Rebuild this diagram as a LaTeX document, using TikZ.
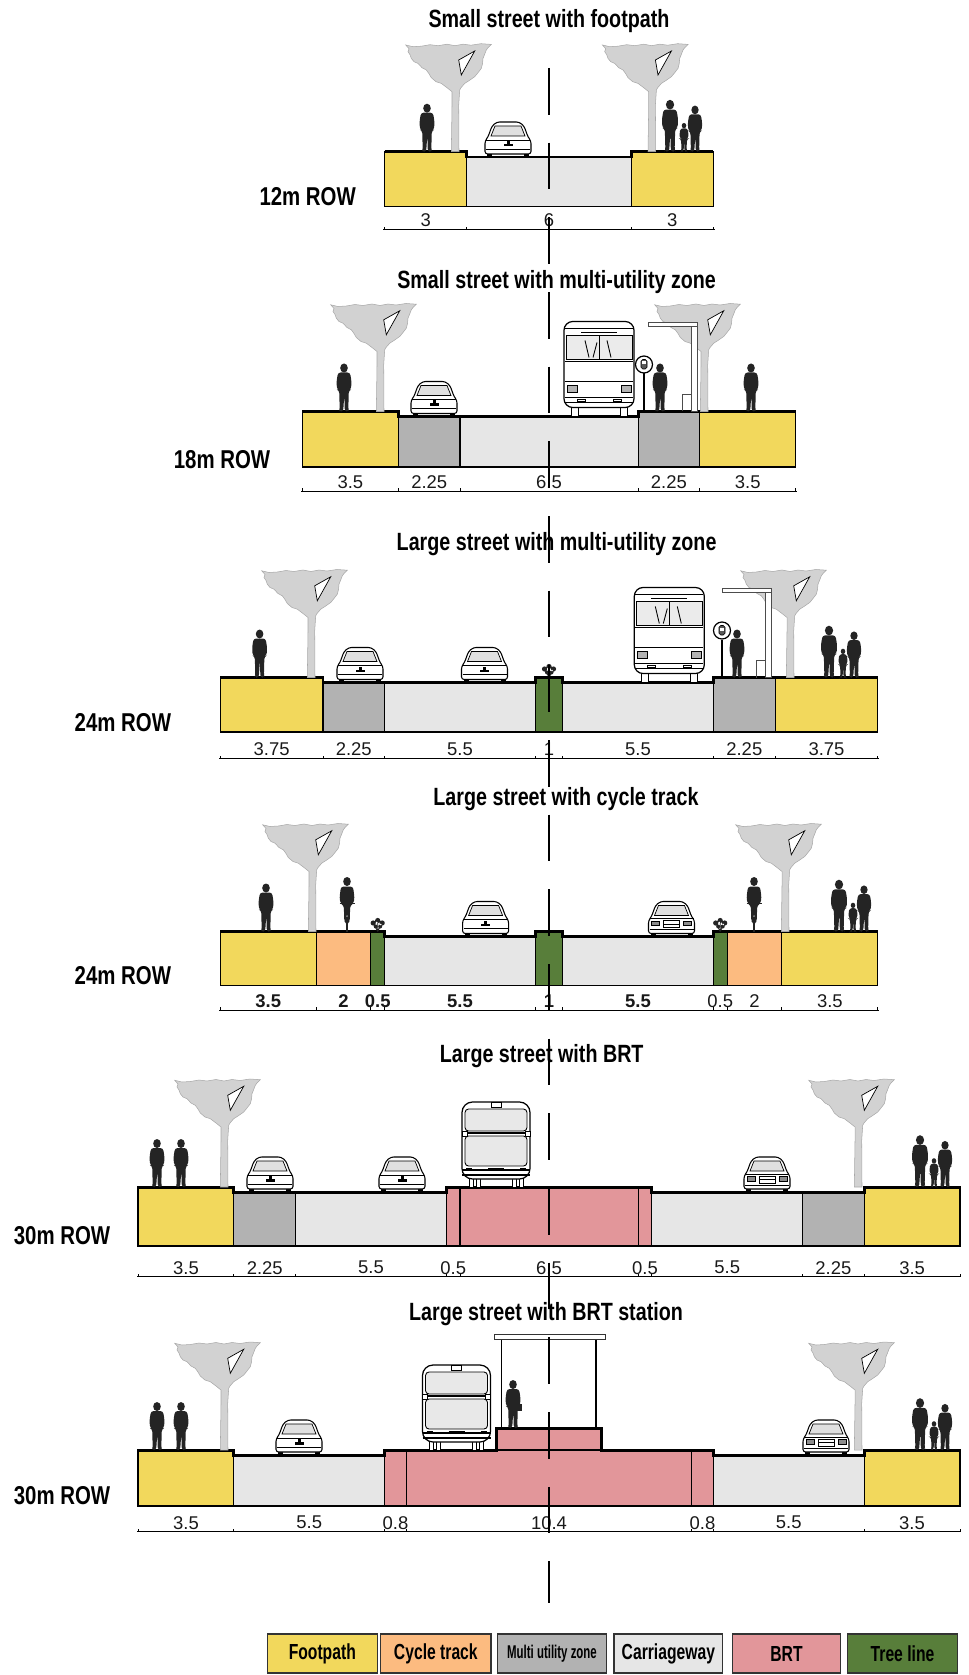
\documentclass[tikz,border=0pt]{standalone}
\usepackage{fontspec}
\setmainfont{Liberation Sans}
\newfontfamily\titlefont[FakeStretch=0.79]{Liberation Sans Bold}
\newfontfamily\legendfont[FakeStretch=0.72]{Liberation Sans Bold}
\newfontfamily\legendnarrow[FakeStretch=0.62]{Liberation Sans Bold}

\definecolor{footpath}{HTML}{F2D85C}
\definecolor{cycletrack}{HTML}{FCBB80}
\definecolor{utility}{HTML}{B2B2B2}
\definecolor{carriage}{HTML}{E6E6E6}
\definecolor{brt}{HTML}{E2969A}
\definecolor{treeline}{HTML}{587E3A}
\definecolor{canopy}{HTML}{D2D2D2}
\definecolor{canopyedge}{HTML}{A8A8A8}
\definecolor{ink}{HTML}{242424}

% one band of a cross-section: x1, x2, top, bottom, colour
\newcommand\zone[5]{\filldraw[zone, fill=#5] (#1,#3) rectangle (#2,#4);}

\tikzset{
  zone/.style={draw=black, line width=0.6pt},
  profile/.style={line width=1.7pt, line join=miter},
  dimline/.style={line width=0.5pt},
  dimlabel/.style={font=\fontsize{10.5}{12}\selectfont, text=black!90, inner sep=0pt},
  boldlabel/.style={dimlabel, font=\bfseries\fontsize{10.5}{12}\selectfont},
  sectitle/.style={font=\titlefont\fontsize{14.2}{16}\selectfont, inner sep=0pt},
  rowlabel/.style={font=\titlefont\fontsize{14.7}{16}\selectfont, inner sep=0pt},
  legendbox/.style={draw=black!80, line width=0.6pt, minimum height=0.78cm, inner sep=0pt,
    font=\legendfont\fontsize{12.4}{14}\selectfont},
  axisline/.style={line width=0.6pt, dash pattern=on 26.6pt off 15.9pt},
  % street furniture, origin at ground level, up = negative y
  walker/.pic={
    \fill[ink] (0,-43.5) ellipse (3.8 and 4.5);
    \fill[ink, rounded corners=1.5] (-6,-39) -- (6,-39) -- (7.5,-30) -- (7,-22) -- (4.8,-21)
      -- (4.3,-2) -- (5,0) -- (0.8,0) -- (0.3,-17) -- (-0.8,0) -- (-5,0) -- (-4.3,-2)
      -- (-4.8,-21) -- (-7,-22) -- (-7.5,-30) -- cycle;
  },
  group/.pic={
    \pic[scale=1.08] at (-12,0) {walker};
    \pic[scale=0.6] at (2,0) {walker};
    \pic[scale=0.96] at (13,0) {walker};
  },
  pair/.pic={
    \pic at (-12,0) {walker};
    \pic at (12,0) {walker};
  },
  cyclist/.pic={
    \fill[ink] (-1.4,0) rectangle (1.4,-15);
    \fill[ink] (0,-50) ellipse (3.8 and 4.5);
    \fill[ink, rounded corners=1.5] (-6,-45) -- (6,-45) -- (7.5,-34) -- (6.5,-28) -- (3.2,-26)
      -- (2.7,-10) -- (0.8,-8) -- (0,-20) -- (-0.8,-8) -- (-2.7,-10) -- (-3.2,-26) -- (-6.5,-28)
      -- (-7.5,-34) -- cycle;
    \draw[ink, line width=0.8pt] (-7.5,-28) -- (7.5,-28);
  },
  tree/.pic={
    \filldraw[fill=canopy, draw=canopyedge, line width=0.3pt]
      (-3.7,0) -- (-3,-46) -- (-3,-60) -- (-8,-64) -- (-13.7,-68.3) -- (-19,-70) -- (-23.7,-74)
      -- (-26,-78) -- (-28.7,-81.7) -- (-33,-84) -- (-37,-88.3) -- (-41,-90) -- (-43.7,-93.3)
      -- (-45,-97) -- (-47,-100) -- (-46,-103) -- (-49.3,-106.7) -- (-42,-105) -- (-33.7,-105.5)
      -- (-25,-107) -- (-17,-106) -- (-8,-107.5) -- (0,-106) -- (8,-107.5) -- (16,-106.5)
      -- (26,-108) -- (36.3,-107.3) -- (33,-104) -- (31.3,-101.7) -- (29.5,-97) -- (28,-93.3)
      -- (27.5,-88) -- (26.3,-83.3) -- (23,-79) -- (19.7,-75) -- (14,-71) -- (9.7,-68.3)
      -- (6,-64) -- (4.7,-61.7) -- (3.7,-46.7) -- (4,0) -- cycle;
    \filldraw[fill=white, draw=black, line width=0.4pt] (3.7,-91.7) -- (19.7,-100.7) -- (6.3,-76.7) -- cycle;
  },
  car/.pic={
    \fill[black] (-21,0) rectangle (-16,-4);
    \fill[black] (16,0) rectangle (21,-4);
    \filldraw[fill=white, draw=black, line width=0.6pt, rounded corners=1.5] (-23,-3) -- (-23,-16)
      -- (-20,-20) -- (-16,-31) -- (-11,-35) -- (11,-35) -- (16,-31) -- (20,-20) -- (23,-16)
      -- (23,-3) -- cycle;
    \filldraw[fill=black!12, draw=black, line width=0.4pt] (-13,-31) -- (13,-31) -- (17,-21) -- (-17,-21) -- cycle;
    \draw[line width=0.4pt] (-22,-17) -- (22,-17) (-22,-8) -- (22,-8);
    \fill[black] (-4.5,-13) rectangle (4.5,-10.5);
    \fill[black] (-1.5,-16) rectangle (1.5,-13);
  },
  carfront/.pic={
    \fill[black] (-21,0) rectangle (-16,-4);
    \fill[black] (16,0) rectangle (21,-4);
    \filldraw[fill=white, draw=black, line width=0.6pt, rounded corners=1.5] (-23,-3) -- (-23,-16)
      -- (-20,-20) -- (-16,-31) -- (-11,-35) -- (11,-35) -- (16,-31) -- (20,-20) -- (23,-16)
      -- (23,-3) -- cycle;
    \filldraw[fill=black!12, draw=black, line width=0.4pt] (-13,-31) -- (13,-31) -- (17,-21) -- (-17,-21) -- cycle;
    \draw[line width=0.4pt] (-22,-18) -- (22,-18) (-22,-7) -- (22,-7);
    \filldraw[fill=black!45, line width=0.3pt] (-20,-15.5) rectangle (-12,-11) (12,-15.5) rectangle (20,-11);
    \draw[line width=0.4pt] (-8,-16) rectangle (8,-9) (-8,-12.5) -- (8,-12.5);
  },
  bus/.pic={
    \filldraw[fill=white, draw=black, line width=0.5pt] (-28,0) rectangle (-21,-10) (21,0) rectangle (28,-10);
    \filldraw[fill=white, draw=black, line width=0.7pt, rounded corners=5] (-35,-9) rectangle (35,-95);
    \draw[line width=0.5pt] (-34,-88) -- (34,-88);
    \draw[line width=0.8pt] (-18,-84) -- (18,-84);
    \filldraw[fill=black!8, draw=black, line width=0.5pt] (-33,-81) rectangle (33,-57);
    \draw[line width=0.5pt] (0,-81) -- (0,-57);
    \draw[line width=0.5pt] (-10,-59) -- (-14,-76) (-6,-59) -- (-2,-74) (12,-59) -- (8,-76);
    \draw[line width=0.5pt] (-34,-55) -- (34,-55) (-34,-35) -- (34,-35) (-34,-19) -- (34,-19);
    \filldraw[fill=black!30, line width=0.4pt] (-32,-31) rectangle (-22,-24) (22,-31) rectangle (32,-24);
    \draw[line width=0.4pt] (-34,-14) -- (34,-14) (-22,-17) rectangle (-14,-15) (14,-17) rectangle (22,-15);
  },
  brtbus/.pic={
    \filldraw[fill=white, draw=black, line width=0.5pt] (-27,0) rectangle (-23,-9) (-20,0) rectangle (-16,-9)
      (16,0) rectangle (20,-9) (23,0) rectangle (27,-9);
    \filldraw[fill=white, draw=black, line width=0.7pt, rounded corners=6] (-34,-8) rectangle (34,-85);
    \filldraw[fill=white, draw=black, line width=0.5pt] (-5,-85) rectangle (5,-80);
    \filldraw[fill=black!9, draw=black, line width=0.5pt, rounded corners=2] (-31,-78) rectangle (31,-56);
    \draw[line width=1pt] (-34,-54) -- (34,-54);
    \filldraw[fill=white, draw=black, line width=0.4pt] (-34,-56) rectangle (-29,-51) (29,-56) rectangle (34,-51);
    \filldraw[fill=black!9, draw=black, line width=0.5pt, rounded corners=2] (-31,-51) rectangle (31,-21);
    \draw[line width=0.6pt] (-34,-17) -- (34,-17) (-34,-12) -- (34,-12);
    \draw[line width=0.4pt] (-30,-19) -- (-24,-19) (-8,-19) -- (8,-19) (24,-19) -- (30,-19);
  },
  stopsign/.pic={
    \draw[line width=0.8pt] (0,0) -- (0,-38);
    \filldraw[fill=white, draw=black, line width=0.7pt] (0,-47) circle (8.5);
    \filldraw[fill=black!65, draw=black, line width=0.3pt, rounded corners=1] (-3,-52) rectangle (3,-42.5);
    \fill[white] (-2,-50) rectangle (2,-47);
  },
  shelter/.pic={
    \filldraw[fill=white, draw=black!70, line width=0.5pt] (-46,-89) rectangle (3,-85);
    \filldraw[fill=white, draw=black!70, line width=0.5pt] (-3,-85) rectangle (3,0);
    \draw[black!70, line width=0.5pt] (-3,-17) -- (-12,-17) -- (-12,0);
  },
  shrub/.pic={
    \draw[ink, line width=0.5pt] (0,0) -- (-4,-8) (0,0) -- (0,-10) (0,0) -- (4,-8);
    \fill[ink] (-4.5,-8.5) circle (2.6) (0,-11) circle (2.6) (4.5,-8.5) circle (2.6)
      (-2,-5) circle (2) (2.5,-5) circle (2);
    \fill[white] (-1,-9) circle (0.9) (3,-7) circle (0.9);
  },
}

\begin{document}
\begin{tikzpicture}[x=0.02cm, y=-0.02cm]
\useasboundingbox (0,0) rectangle (969,1675);

%% ---------- 12m: small street with footpath ----------
\node[sectitle] (t1) at (549,21.4) {Small street with footpath};
\zone{384.6}{466.8}{151.7}{206.5}{footpath}
\zone{466.8}{631.2}{157}{206.5}{carriage}
\zone{631.2}{713.4}{151.7}{206.5}{footpath}
\draw[profile] (384.6,151.7) -- (466.8,151.7) -- (466.8,157) -- (631.2,157) -- (631.2,151.7) -- (713.4,151.7);
\pic at (427,151.7) {walker};
\pic at (455,151.7) {tree};
\pic at (508,157) {car};
\pic at (651.7,151.7) {tree};
\pic at (682,151.7) {group};
\node[rowlabel] (r1) at (307.7,197) {12m ROW};
\draw[dimline] (383,229.7) -- (715,229.7);
\foreach \x in {384.6,466.8,631.2,713.4} \draw[dimline] (\x,229.7) -- (\x,226.7);
\node[dimlabel] (d1a) at (425.7,220.5) {3};
\node[dimlabel] (d1b) at (549,220.5) {6};
\node[dimlabel] (d1c) at (672.3,220.5) {3};

%% ---------- 18m: small street with multi-utility zone ----------
\node[sectitle] (t2) at (556.6,282) {Small street with multi-utility zone};
\zone{302.4}{398.3}{411.5}{467}{footpath}
\zone{398.3}{460}{416.5}{467}{utility}
\zone{460}{638.1}{416.5}{467}{carriage}
\zone{638.1}{699.7}{411.5}{467}{utility}
\zone{699.7}{795.6}{411.5}{467}{footpath}
\draw[profile] (302.4,411.5) -- (398.3,411.5) -- (398.3,416.5) -- (638.1,416.5) -- (638.1,411.5) -- (795.6,411.5);
\pic at (344,411.5) {walker};
\pic at (380,411.5) {tree};
\pic at (434,416.5) {car};
\pic at (599,416.5) {bus};
\pic at (704,411.5) {tree};
\pic at (694,411.5) {shelter};
\pic at (644,411.5) {stopsign};
\pic at (660,411.5) {walker};
\pic at (751,411.5) {walker};
\node[rowlabel] (r2) at (222,459.4) {18m ROW};
\draw[dimline] (301,491.5) -- (797,491.5);
\foreach \x in {302.4,398.3,460,638.1,699.7,795.6} \draw[dimline] (\x,491.5) -- (\x,488.5);
\node[dimlabel] (d2a) at (350.4,482.5) {3.5};
\node[dimlabel] (d2b) at (429.2,482.5) {2.25};
\node[dimlabel] (d2c) at (549,482.5) {6.5};
\node[dimlabel] (d2d) at (668.9,482.5) {2.25};
\node[dimlabel] (d2e) at (747.7,482.5) {3.5};

%% ---------- 24m: large street with multi-utility zone ----------
\node[sectitle] (t3) at (556.6,543.8) {Large street with multi-utility zone};
\zone{220.2}{323}{677.5}{732}{footpath}
\zone{323}{384.6}{682.5}{732}{utility}
\zone{384.6}{535.3}{682.5}{732}{carriage}
\zone{535.3}{562.7}{677.5}{732}{treeline}
\zone{562.7}{713.4}{682.5}{732}{carriage}
\zone{713.4}{775.1}{677.5}{732}{utility}
\zone{775.1}{877.8}{677.5}{732}{footpath}
\draw[profile] (220.2,677.5) -- (323,677.5) -- (323,682.5) -- (535.3,682.5) -- (535.3,677.5) -- (562.7,677.5)
  -- (562.7,682.5) -- (713.4,682.5) -- (713.4,677.5) -- (877.8,677.5);
\pic at (259.6,677.5) {walker};
\pic at (311,677.5) {tree};
\pic at (360,682.5) {car};
\pic at (484.5,682.5) {car};
\pic at (549,677.5) {shrub};
\pic at (669.3,682.5) {bus};
\pic at (790,677.5) {tree};
\pic at (768,677.5) {shelter};
\pic at (722,677.5) {stopsign};
\pic at (737,677.5) {walker};
\pic at (841,677.5) {group};
\node[rowlabel] (r3) at (122.9,722.2) {24m ROW};
\draw[dimline] (219,758.6) -- (879,758.6);
\foreach \x in {220.2,323,384.6,535.3,562.7,713.4,775.1,877.8} \draw[dimline] (\x,758.6) -- (\x,755.6);
\node[dimlabel] (d3a) at (271.6,749.6) {3.75};
\node[dimlabel] (d3b) at (353.8,749.6) {2.25};
\node[dimlabel] (d3c) at (460,749.6) {5.5};
\node[dimlabel] (d3d) at (549,749.6) {1};
\node[dimlabel] (d3e) at (638,749.6) {5.5};
\node[dimlabel] (d3f) at (744.3,749.6) {2.25};
\node[dimlabel] (d3g) at (826.5,749.6) {3.75};

%% ---------- 24m: large street with cycle track ----------
\node[sectitle] (t4) at (566,799) {Large street with cycle track};
\zone{220.2}{316.1}{931.5}{985.5}{footpath}
\zone{316.1}{370.9}{931.5}{985.5}{cycletrack}
\zone{370.9}{384.6}{931.5}{985.5}{treeline}
\zone{384.6}{535.3}{936.5}{985.5}{carriage}
\zone{535.3}{562.7}{931.5}{985.5}{treeline}
\zone{562.7}{713.4}{936.5}{985.5}{carriage}
\zone{713.4}{727.1}{931.5}{985.5}{treeline}
\zone{727.1}{781.9}{931.5}{985.5}{cycletrack}
\zone{781.9}{877.8}{931.5}{985.5}{footpath}
\draw[profile] (220.2,931.5) -- (384.6,931.5) -- (384.6,936.5) -- (535.3,936.5) -- (535.3,931.5) -- (562.7,931.5)
  -- (562.7,936.5) -- (713.4,936.5) -- (713.4,931.5) -- (877.8,931.5);
\pic at (266,931.5) {walker};
\pic at (312,931.5) {tree};
\pic at (347,931.5) {cyclist};
\pic at (377.7,931.5) {shrub};
\pic at (485.6,936.5) {car};
\pic at (671.5,936.5) {carfront};
\pic at (720.2,931.5) {shrub};
\pic at (754,931.5) {cyclist};
\pic at (785,931.5) {tree};
\pic at (851,931.5) {group};
\node[rowlabel] (r4) at (122.9,975.5) {24m ROW};
\draw[dimline] (219,1010) -- (879,1010);
\foreach \x in {220.2,316.1,370.9,384.6,535.3,562.7,713.4,727.1,781.9,877.8} \draw[dimline] (\x,1010) -- (\x,1007);
\node[boldlabel] (d4a) at (268.2,1001) {3.5};
\node[boldlabel] (d4b) at (343.5,1001) {2};
\node[boldlabel] (d4c) at (377.7,1001) {0.5};
\node[boldlabel] (d4d) at (460,1001) {5.5};
\node[boldlabel] (d4e) at (549,1001) {1};
\node[boldlabel] (d4f) at (638,1001) {5.5};
\node[dimlabel] (d4g) at (720.3,1001) {0.5};
\node[dimlabel] (d4h) at (754.5,1001) {2};
\node[dimlabel] (d4i) at (829.9,1001) {3.5};

%% ---------- 30m: large street with BRT ----------
\node[sectitle] (t5) at (541.7,1055.6) {Large street with BRT};
\zone{138}{233.9}{1187}{1246}{footpath}
\zone{233.9}{295.6}{1192}{1246}{utility}
\zone{295.6}{446.3}{1192}{1246}{carriage}
\zone{446.3}{651.8}{1187}{1246}{brt}
\draw[line width=0.6pt] (460,1187) -- (460,1246) (638.1,1187) -- (638.1,1246);
\zone{651.8}{802.5}{1192}{1246}{carriage}
\zone{802.5}{864.2}{1192}{1246}{utility}
\zone{864.2}{960}{1187}{1246}{footpath}
\draw[profile] (138,1187) -- (233.9,1187) -- (233.9,1192) -- (446.3,1192) -- (446.3,1187) -- (651.8,1187)
  -- (651.8,1192) -- (864.2,1192) -- (864.2,1187) -- (960,1187);
\pic at (169,1187) {pair};
\pic at (224,1187) {tree};
\pic at (270,1192) {car};
\pic at (402,1192) {car};
\pic at (496,1187) {brtbus};
\pic at (767,1192) {carfront};
\pic at (858,1187) {tree};
\pic at (932,1187) {group};
\node[rowlabel] (r5) at (62,1236) {30m ROW};
\draw[dimline] (137,1276.7) -- (961,1276.7);
\foreach \x in {138,233.9,295.6,446.3,460,638.1,651.8,802.5,864.2,960} \draw[dimline] (\x,1276.7) -- (\x,1273.7);
\node[dimlabel] (d5a) at (186,1267.7) {3.5};
\node[dimlabel] (d5b) at (264.8,1267.7) {2.25};
\node[dimlabel] (d5c) at (371,1267.7) {5.5};
\node[dimlabel] (d5d) at (453.2,1267.7) {0.5};
\node[dimlabel] (d5e) at (549,1267.7) {6.5};
\node[dimlabel] (d5f) at (645,1267.7) {0.5};
\node[dimlabel] (d5g) at (727.2,1267.7) {5.5};
\node[dimlabel] (d5h) at (833.4,1267.7) {2.25};
\node[dimlabel] (d5i) at (912.1,1267.7) {3.5};

%% ---------- 30m: large street with BRT station ----------
\node[sectitle] (t6) at (546,1314.5) {Large street with BRT station};
\zone{138}{233.9}{1450}{1506}{footpath}
\zone{233.9}{384.6}{1455}{1506}{carriage}
\zone{384.6}{713.4}{1450}{1506}{brt}
\filldraw[zone, fill=brt] (496.7,1428) rectangle (601,1450);
\draw[line width=0.6pt] (406.5,1450) -- (406.5,1506) (691.5,1450) -- (691.5,1506);
\zone{713.4}{864.1}{1455}{1506}{carriage}
\zone{864.1}{960}{1450}{1506}{footpath}
\draw[profile] (138,1450) -- (233.9,1450) -- (233.9,1455) -- (384.6,1455) -- (384.6,1450) -- (496.7,1450)
  -- (496.7,1428) -- (601,1428) -- (601,1450) -- (713.4,1450) -- (713.4,1455) -- (864.1,1455)
  -- (864.1,1450) -- (960,1450);
% station canopy
\draw[line width=0.6pt] (501.7,1339) -- (501.7,1428) (596,1339) -- (596,1428);
\filldraw[fill=white, draw=black!80, line width=0.5pt] (494.3,1334) rectangle (605,1339);
\pic at (169,1450) {pair};
\pic at (224,1450) {tree};
\pic at (299,1455) {car};
\pic at (456.5,1450) {brtbus};
\pic at (513,1428) {walker};
\fill[ink] (517,1404) rectangle (522,1411);
\pic at (826,1455) {carfront};
\pic at (858,1450) {tree};
\pic at (932,1450) {group};
\node[rowlabel] (r6) at (62,1495.8) {30m ROW};
\draw[dimline] (137,1531.7) -- (961,1531.7);
\foreach \x in {138,233.9,384.6,406.5,691.5,713.4,864.1,960} \draw[dimline] (\x,1531.7) -- (\x,1528.7);
\node[dimlabel] (d6a) at (186,1522.7) {3.5};
\node[dimlabel] (d6b) at (309.3,1522.7) {5.5};
\node[dimlabel] (d6c) at (395.5,1522.7) {0.8};
\node[dimlabel] (d6d) at (549,1522.7) {10.4};
\node[dimlabel] (d6e) at (702.5,1522.7) {0.8};
\node[dimlabel] (d6f) at (788.8,1522.7) {5.5};
\node[dimlabel] (d6g) at (912,1522.7) {3.5};

%% ---------- centre axis ----------
\draw[axisline] (549,68) -- (549,1603);

%% ---------- legend ----------
\node[legendbox, fill=footpath, minimum width=2.2cm] (lg1) at (322.3,1653.5) {Footpath};
\node[legendbox, fill=cycletrack, minimum width=2.206cm] (lg2) at (435.85,1653.5) {Cycle track};
\node[legendbox, fill=utility, minimum width=2.188cm, font=\legendnarrow\fontsize{10.5}{12}\selectfont] (lg3) at (552,1653.5) {Multi utility zone};
\node[legendbox, fill=carriage, minimum width=2.174cm] (lg4) at (668.35,1653.5) {Carriageway};
\node[legendbox, fill=brt, minimum width=2.168cm] (lg5) at (786.5,1653.5) {BRT};
\node[legendbox, fill=treeline, minimum width=2.208cm] (lg6) at (902.5,1653.5) {Tree line};
\end{tikzpicture}
\end{document}
